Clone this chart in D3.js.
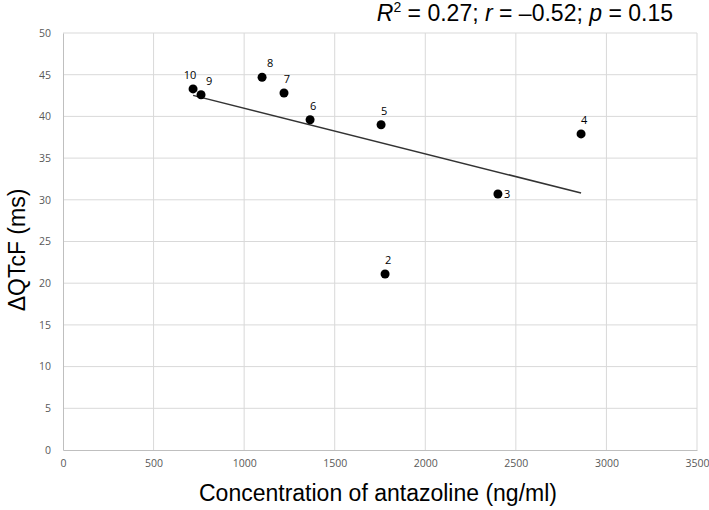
<!DOCTYPE html>
<html><head><meta charset="utf-8">
<script src="https://cdn.jsdelivr.net/npm/d3@7"></script>
<style>body{margin:0;background:#fff}</style>
</head><body>
<script>
const ids = ["10","9","8","7","6","5","4","3","2"];
const conc = [718, 762, 1099, 1220, 1364, 1756, 2860, 2401, 1778];
const dqtc = [43.3, 42.6, 44.7, 42.8, 39.6, 39.0, 37.9, 30.7, 21.1];
const labelPos = ["tl","tr","tr","t","t","t","t","r","t"];
const xTicks = [0,500,1000,1500,2000,2500,3000,3500];
const yTicks = [0,5,10,15,20,25,30,35,40,45,50];

const W=709,H=510;
const svg=d3.select("body").append("svg").attr("width",W).attr("height",H);
const x=d3.scaleLinear().domain([0,3500]).range([63,697]);
const y=d3.scaleLinear().domain([0,50]).range([450,33]);
const tickFont="'Open Sans', 'Noto Sans', sans-serif";

// grid
svg.append("g").selectAll("line").data(xTicks.slice(1)).join("line")
 .attr("x1",d=>x(d)).attr("x2",d=>x(d)).attr("y1",y(0)).attr("y2",y(50))
 .attr("stroke","#d9d9d9").attr("stroke-width",1);
svg.append("g").selectAll("line").data(yTicks.slice(1)).join("line")
 .attr("y1",d=>y(d)).attr("y2",d=>y(d)).attr("x1",x(0)).attr("x2",x(3500))
 .attr("stroke","#d9d9d9").attr("stroke-width",1);

// axes
const xa=svg.append("g").attr("transform",`translate(0,${y(0)})`)
 .call(d3.axisBottom(x).tickValues(xTicks).tickFormat(d3.format("d")).tickSize(0).tickPadding(10));
const ya=svg.append("g").attr("transform",`translate(${x(0)},0)`)
 .call(d3.axisLeft(y).tickValues(yTicks).tickFormat(d3.format("d")).tickSize(0).tickPadding(12));
[xa,ya].forEach(a=>{a.select(".domain").attr("stroke","#bfbfbf");
 a.selectAll("text").attr("fill","#595959").style("font-family",tickFont).style("font-size","10.5px");});

// regression line
const n=conc.length, mx=d3.mean(conc), my=d3.mean(dqtc);
let sxy=0,sxx=0; for(let i=0;i<n;i++){sxy+=(conc[i]-mx)*(dqtc[i]-my);sxx+=(conc[i]-mx)**2;}
const b=sxy/sxx, a=my-b*mx;
const [x0,x1]=d3.extent(conc);
svg.append("line").attr("x1",x(x0)).attr("y1",y(a+b*x0)).attr("x2",x(x1)).attr("y2",y(a+b*x1))
 .attr("stroke","#333").attr("stroke-width",1.5);

// points
const data=conc.map((c,i)=>({c,v:dqtc[i],id:ids[i],p:labelPos[i]}));
svg.append("g").selectAll("circle").data(data).join("circle")
 .attr("cx",d=>x(d.c)).attr("cy",d=>y(d.v)).attr("r",4.5).attr("fill","#000");
svg.append("g").selectAll("text").data(data).join("text")
 .attr("x",d=>x(d.c)+(d.p==="tl"?-3:d.p==="tr"?8:d.p==="r"?6:3))
 .attr("y",d=>y(d.v)+(d.p==="r"?4:-10))
 .attr("text-anchor",d=>d.p==="r"?"start":"middle")
 .style("font-family",tickFont).style("font-size","11px").attr("fill","#000")
 .text(d=>d.id);

// titles
const tf="'Liberation Sans', Arial, sans-serif";
svg.append("text").attr("x",378).attr("y",501).attr("text-anchor","middle")
 .style("font-family",tf).style("font-size","23px").text("Concentration of antazoline (ng/ml)");
svg.append("text").attr("transform",`translate(25,250) rotate(-90)`).attr("text-anchor","middle")
 .style("font-family",tf).style("font-size","23px").text("ΔQTcF (ms)");
const t=svg.append("text").attr("x",673).attr("y",21).attr("text-anchor","end")
 .style("font-family",tf).style("font-size","23px");
t.append("tspan").style("font-style","italic").text("R");
t.append("tspan").attr("dy",-9).style("font-size","14px").text("2");
t.append("tspan").attr("dy",9).text(" = 0.27; ");
t.append("tspan").style("font-style","italic").text("r");
t.append("tspan").text(" = \u20130.52; ");
t.append("tspan").style("font-style","italic").text("p");
t.append("tspan").text(" = 0.15");
</script>
</body></html>
